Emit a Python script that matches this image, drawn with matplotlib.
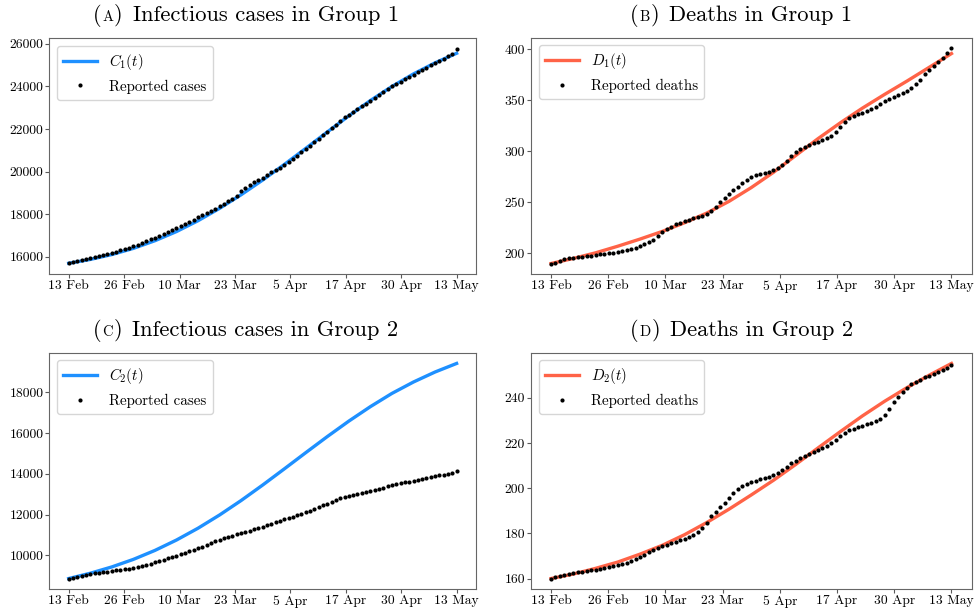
import numpy as np
import matplotlib
matplotlib.use('Agg')
import matplotlib.pyplot as plt

plt.rcParams['font.family'] = 'serif'
plt.rcParams['font.serif'] = ['cmr10']
plt.rcParams['mathtext.fontset'] = 'cm'
plt.rcParams['axes.formatter.use_mathtext'] = False

# ── DATA ──────────────────────────────────────────────────────────────────────
TICK_LABELS = ["13 Feb", "26 Feb", "10 Mar", "23 Mar", "5 Apr", "17 Apr", "30 Apr", "13 May"]
DAYS = np.arange(91)            # 13 Feb .. 13 May, daily reports
MODEL_DAYS = np.arange(0, 91, 5)  # model curve sampled every 5 days

c1_model = [15690, 15870, 16100, 16390, 16750, 17180, 17690, 18270, 18910, 19600,
            20330, 21090, 21860, 22620, 23340, 24000, 24590, 25110, 25560]
c1_cases = [15700, 15745, 15790, 15835, 15885, 15930, 15980, 16030, 16080, 16130,
            16180, 16240, 16300, 16360, 16420, 16490, 16570, 16650, 16730, 16810,
            16900, 16990, 17070, 17150, 17240, 17340, 17440, 17540, 17640, 17740,
            17850, 17950, 18050, 18150, 18260, 18370, 18480, 18600, 18720, 18850,
            19100, 19250, 19380, 19500, 19620, 19720, 19840, 19960, 20080, 20190,
            20300, 20440, 20580, 20750, 20920, 21070, 21210, 21390, 21550, 21720,
            21880, 22040, 22200, 22380, 22550, 22680, 22800, 22930, 23060, 23190,
            23320, 23450, 23590, 23730, 23870, 24000, 24110, 24220, 24340, 24460,
            24560, 24670, 24780, 24890, 25000, 25110, 25210, 25310, 25420, 25540,
            25760]

d1_model = [190.0, 195.0, 200.5, 207.0, 214.0, 221.5, 230.0, 239.5, 251.0, 264.5,
            279.5, 296.0, 312.5, 328.0, 342.5, 356.0, 369.0, 382.5, 396.0]
d1_deaths = [190, 191, 192.5, 194, 195, 195.5, 196, 196.5, 197, 197.5,
             198, 199, 199.5, 200, 200.5, 201.5, 202, 203, 204, 205.5,
             207, 209, 211, 213.5, 217, 221, 224, 226, 228.5, 230,
             231.5, 233, 234.5, 236, 237, 239, 242, 245.5, 250, 254,
             258, 262, 265.5, 269, 272, 275, 277, 278, 279, 280,
             282, 284, 287, 291, 295.5, 299, 302, 304.5, 306, 308,
             309.5, 311, 313, 315.5, 319, 324, 329, 333, 335, 336.5,
             338, 340, 342, 344, 346.5, 349, 351.5, 353, 355, 357,
             359.5, 362, 366, 370.5, 375.5, 380, 384, 388, 392, 396.5,
             401]

c2_model = [8860, 9120, 9430, 9800, 10240, 10750, 11330, 11980, 12690, 13450,
            14240, 15040, 15830, 16590, 17300, 17950, 18510, 19000, 19420]
c2_cases = [8860, 8900, 8940, 8990, 9030, 9070, 9110, 9140, 9170, 9200,
            9230, 9260, 9290, 9310, 9340, 9370, 9410, 9460, 9520, 9580,
            9650, 9720, 9790, 9860, 9930, 9990, 10050, 10120, 10190, 10260,
            10340, 10420, 10500, 10590, 10680, 10760, 10840, 10910, 10970, 11030,
            11090, 11150, 11210, 11270, 11330, 11400, 11480, 11560, 11630, 11700,
            11760, 11820, 11880, 11960, 12040, 12120, 12200, 12280, 12360, 12450,
            12540, 12640, 12730, 12810, 12870, 12920, 12970, 13020, 13070, 13120,
            13170, 13220, 13270, 13320, 13380, 13440, 13500, 13540, 13580, 13620,
            13660, 13700, 13740, 13790, 13840, 13880, 13920, 13960, 14010, 14060,
            14120]

d2_model = [160.0, 162.0, 164.5, 167.3, 170.8, 174.7, 179.4, 184.8, 190.7, 197.0,
            203.5, 210.5, 217.8, 225.0, 232.0, 238.5, 244.5, 250.0, 255.2]
d2_deaths = [160, 160.5, 161, 161.5, 162, 162.3, 162.7, 163, 163.4, 163.8,
             164, 164.3, 164.6, 165, 165.4, 165.8, 166.3, 166.8, 167.8, 168.7,
             169.6, 170.6, 171.8, 172.8, 173.6, 174.3, 175, 175.6, 176.3, 176.9,
             177.6, 178.2, 179.2, 180.8, 182.5, 184.5, 187.5, 189.5, 191.5, 193.5,
             195.5, 197.8, 199.5, 200.8, 201.8, 202.6, 203.3, 203.9, 204.4, 205,
             205.8, 206.8, 208, 209.5, 211, 212.2, 213.3, 214.2, 215.2, 216.2,
             217, 217.8, 218.8, 219.8, 221.2, 223, 224.6, 225.6, 226.4, 227,
             227.5, 228.2, 229, 229.6, 230.5, 232.5, 235, 238, 240.5, 242.5,
             244.5, 246, 247, 248, 249, 249.8, 250.7, 251.6, 252.5, 253.4,
             254.5]

BLUE = '#1E90FF'
RED = '#FF6347'

# ── FIGURE ────────────────────────────────────────────────────────────────────
W, H = 974, 612
fig = plt.figure(figsize=(W / 100, H / 100), dpi=100)


def px_axes(l, t, r, b):
    return fig.add_axes([l / W, 1 - b / H, (r - l) / W, (b - t) / H])


panels = [
    # (axes box px, model, data, colour, label, data label, yticks, caption, caption pos)
    ((49.3, 38.3, 476, 274), c1_model, c1_cases, BLUE, r'$C_1(t)$', 'Reported cases',
     range(16000, 26001, 2000), ('A', 'Infectious cases in Group 1'), (245.6, 20.7)),
    ((531, 37.7, 971.5, 274.3), d1_model, d1_deaths, RED, r'$D_1(t)$', 'Reported deaths',
     range(200, 401, 50), ('B', 'Deaths in Group 1'), (741, 20.7)),
    ((49.3, 352.7, 476, 589.3), c2_model, c2_cases, BLUE, r'$C_2(t)$', 'Reported cases',
     range(10000, 18001, 2000), ('C', 'Infectious cases in Group 2'), (245.6, 335.7)),
    ((531, 352.7, 971.5, 589.3), d2_model, d2_deaths, RED, r'$D_2(t)$', 'Reported deaths',
     range(160, 241, 20), ('D', 'Deaths in Group 2'), (741.5, 335.7)),
]

captions = []
for box, model, data, col, lab, dlab, yt, cap, cpos in panels:
    ax = px_axes(*box)
    ax.plot(MODEL_DAYS, model, color=col, lw=2.4, label=lab)
    ax.plot(DAYS, data, 'o', color='k', ms=3.0, mew=0, label=dlab)
    ax.set_xticks(np.linspace(0, 90, 8))
    ax.set_xticklabels(TICK_LABELS)
    ax.set_yticks(list(yt))
    ax.tick_params(labelsize=9.8, color='0.35', length=2.7, pad=1.6)
    for s in ax.spines.values():
        s.set_color('0.4')
    ax.legend(loc='upper left', fontsize=10.8, handlelength=2.3, handletextpad=0.8)
    captions.append((cap, cpos))

# ── SUBCAPTIONS WITH SMALL-CAPS LETTER ───────────────────────────────────────
renderer = fig.canvas.get_renderer()
for (letter, text), (xc, yb) in captions:
    parts = [("(", 16, 0), (letter, 10.5, 1), (")", 16, 1), (text, 16.2, 10)]
    objs, widths = [], []
    for s, fs, gap in parts:
        t = fig.text(0, 1 - yb / H, s, fontsize=fs, ha='left', va='baseline')
        objs.append((t, gap))
        widths.append(t.get_window_extent(renderer).width)
    total = sum(widths) + sum(g for _, _, g in parts)
    x = xc - total / 2
    for (t, gap), w in zip(objs, widths):
        x += gap
        t.set_x(x / W)
        x += w

fig.savefig('out.png', dpi=100)
